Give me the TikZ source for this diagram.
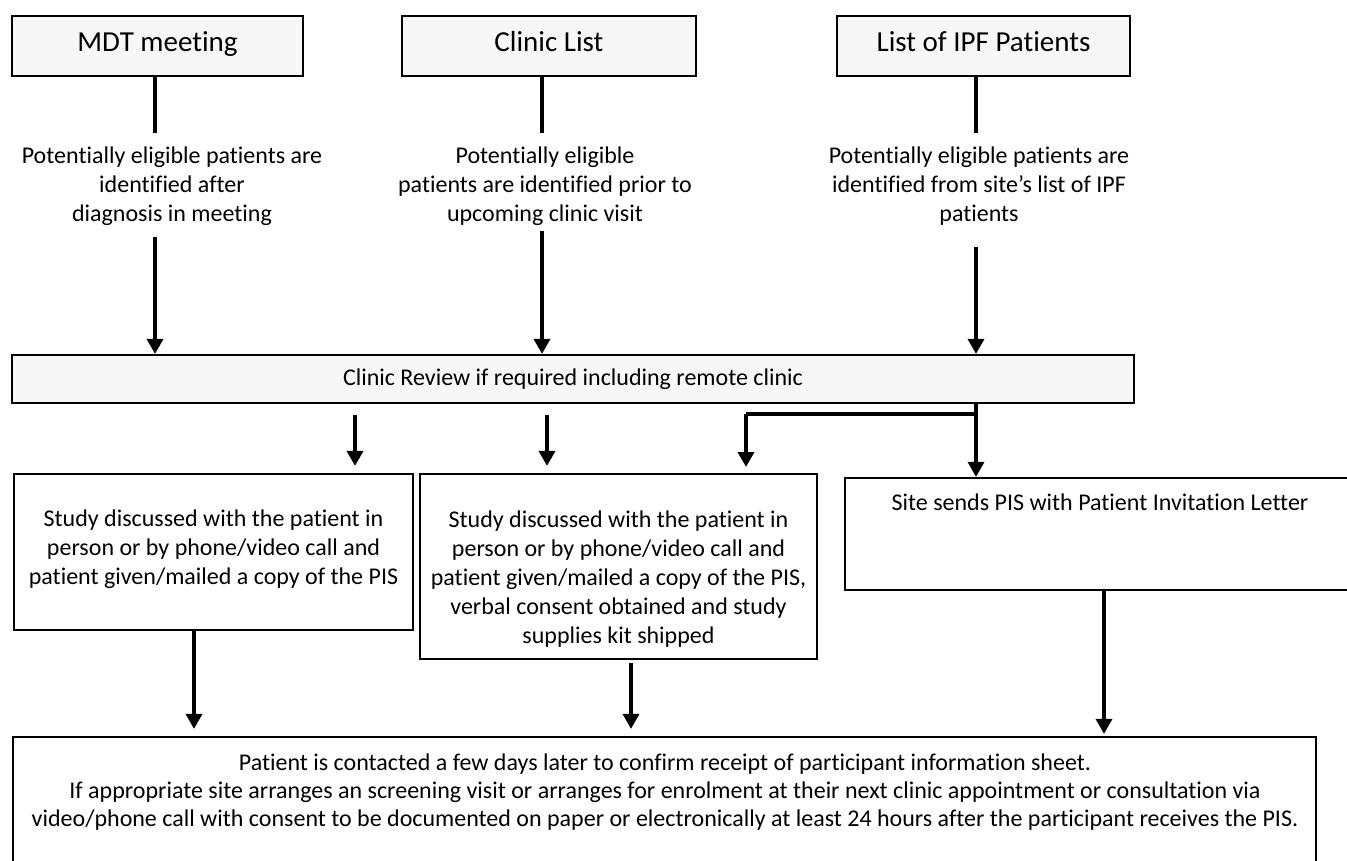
\documentclass[tikz,border=0pt]{standalone}
\usepackage{fontspec}
\setmainfont{Carlito}[Ligatures={TeX,NoCommon}]
\usetikzlibrary{arrows.meta,calc}
\definecolor{lg}{HTML}{F7F7F7}
\begin{document}
\begin{tikzpicture}[x=1pt,y=-1pt,
  box/.style={draw=black, line width=2.2pt, fill=lg, inner sep=0pt},
  wbox/.style={draw=black, line width=2.2pt, fill=white, inner sep=0pt},
  txt/.style={font=\fontsize{24}{29}\selectfont, align=center, inner sep=0pt},
  big/.style={font=\fontsize{29}{35}\selectfont, text height=20pt, text depth=8pt},
  conn/.style={line width=3.5pt},
  arr/.style={line width=3.5pt, -{Triangle[width=16pt,length=15pt]}},
]
\path[use as bounding box, clip] (0,0) rectangle (1347,861);
\fill[white] (0,0) rectangle (1347,861);

% top boxes
\node[box, big, minimum width=291pt, minimum height=60pt] (mdt) at (157.5,46) {MDT meeting};
\node[box, big, minimum width=294pt, minimum height=60pt] (cl) at (549,46) {Clinic List};
\node[box, big, minimum width=293pt, minimum height=60pt] (ipf) at (983.5,46) {List of IPF Patients};

% descriptive texts
\node[txt] (t1) at (172,186) {Potentially eligible patients are\\identified after\\diagnosis in meeting};
\node[txt] (t2) at (545,186) {Potentially eligible\\patients are identified prior to\\upcoming clinic visit};
\node[txt] (t3) at (979,186) {Potentially eligible patients are\\identified from site’s list of IPF\\patients};

% review bar
\node[box, txt, minimum width=1122pt, minimum height=48pt] (bar) at (573,379) {Clinic Review if required including remote clinic};

% line anchors
\coordinate (c1) at (155,133);
\coordinate (c2) at (542,133);
\coordinate (c3) at (976,133);
\coordinate (u1) at (155,237);
\coordinate (u2) at (542,231);
\coordinate (u3) at (976,247);

\draw[conn] (c1 |- mdt.south) -- (c1);
\draw[conn] (c2 |- cl.south) -- (c2);
\draw[conn] (c3 |- ipf.south) -- (c3);
\draw[arr] (u1) -- (u1 |- bar.north);
\draw[arr] (u2) -- (u2 |- bar.north);
\draw[arr] (u3) -- (u3 |- bar.north);

% middle boxes
\node[wbox, minimum width=399pt, minimum height=156pt] (b1) at (213.5,552) {};
\node[txt] (b1t) at (213.5,549) {Study discussed with the patient in\\person or by phone/video call and\\patient given/mailed a copy of the PIS};
\node[wbox, minimum width=397pt, minimum height=185pt] (b2) at (618.5,566.5) {};
\node[txt] (b2t) at (618.5,579) {Study discussed with the patient in\\person or by phone/video call and\\patient given/mailed a copy of the PIS,\\verbal consent obtained and study\\supplies kit shipped};
\node[wbox, minimum width=515pt, minimum height=112pt] (b3) at (1102.5,534) {};
\node[txt] (b3t) at (1100,502) {Site sends PIS with Patient Invitation Letter};

% bottom box
\node[wbox, minimum width=1303pt, minimum height=150pt] (bot) at (664.5,812) {};
\node[txt, font=\fontsize{24}{28}\selectfont] (bott) at (665,792) {Patient is contacted a few days later to confirm receipt of participant information sheet.\\If appropriate site arranges an screening visit or arranges for enrolment at their next clinic appointment or consultation via\\video/phone call with consent to be documented on paper or electronically at least 24 hours after the participant receives the PIS.};

% arrows from bar
\coordinate (a1) at (355,415);
\coordinate (a2) at (547,415);
\coordinate (e1) at (976,414);
\coordinate (e2) at (746,467);
\draw[arr] (a1) -- ($(a1 |- b1.north)+(0,-7)$);
\draw[arr] (a2) -- ($(a2 |- b2.north)+(0,-7)$);
\draw[conn] (e1) -| (e2 |- e1);
\draw[arr] (e2 |- e1) -- (e2);
\draw[arr] (c3 |- bar.south) -- (c3 |- b3.north);

% arrows to bottom box
\coordinate (d1) at (194,0);
\coordinate (d2) at (631,663);
\coordinate (d3) at (1104,0);
\draw[arr] (d1 |- b1.south) -- ($(d1 |- bot.north)+(0,-7)$);
\draw[arr] (d2) -- ($(d2 |- bot.north)+(0,-7)$);
\draw[arr] (d3 |- b3.south) -- ($(d3 |- bot.north)+(0,-2)$);
\end{tikzpicture}
\end{document}
